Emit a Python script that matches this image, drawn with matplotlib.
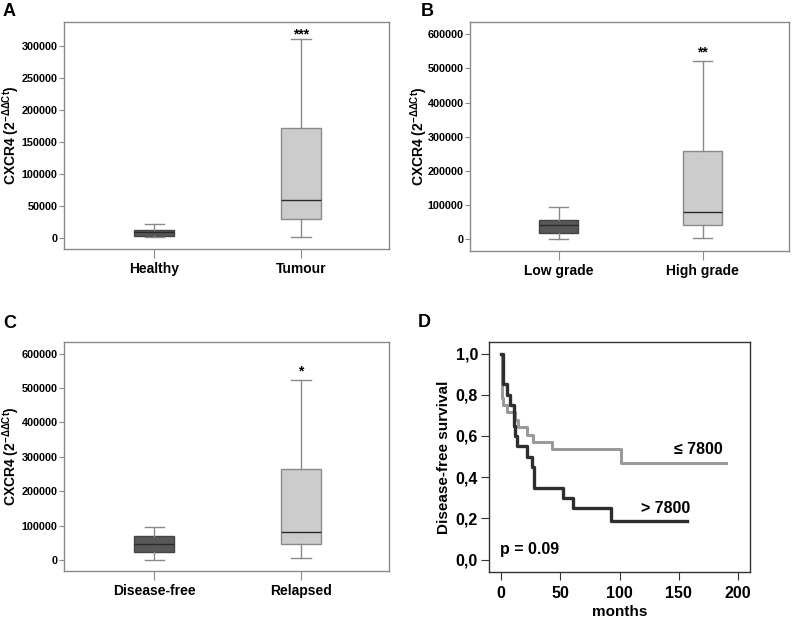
import matplotlib
matplotlib.use("Agg")
import matplotlib.pyplot as plt
from matplotlib.ticker import FuncFormatter

plt.rcParams['font.family'] = ['Liberation Sans', 'DejaVu Sans']
plt.rcParams['font.weight'] = 'bold'
plt.rcParams['mathtext.fontset'] = 'custom'
plt.rcParams['mathtext.rm'] = 'Liberation Sans'
plt.rcParams['mathtext.default'] = 'regular'

# box summaries: (whisker low, q1, median, q3, whisker high)
a_labels = ['Healthy', 'Tumour']
a_stats = [(600, 3100, 8500, 12000, 21500), (1000, 28800, 58600, 172000, 311000)]
b_labels = ['Low grade', 'High grade']
b_stats = [(0, 17500, 41000, 55600, 95000), (4000, 41000, 80000, 260000, 523000)]
c_labels = ['Disease-free', 'Relapsed']
c_stats = [(1000, 22400, 45700, 69000, 95000), (5000, 45700, 81500, 266000, 523000)]
stars = ['***', '**', '*']

# Kaplan-Meier steps (months, survival)
hi_t = [0, 1.4, 4.8, 7.6, 10.4, 12, 13.2, 21.7, 26, 28, 52.6, 61, 93, 157]
hi_s = [1.0, 0.85, 0.80, 0.75, 0.65, 0.60, 0.55, 0.50, 0.45, 0.35, 0.30, 0.25, 0.1875, 0.1875]
lo_t = [0, 0.6, 1.6, 4.8, 11.9, 14.5, 21.8, 26.6, 43, 101, 190]
lo_s = [1.0, 0.786, 0.75, 0.714, 0.679, 0.643, 0.607, 0.571, 0.536, 0.469, 0.469]

fig = plt.figure(figsize=(7.96, 6.18), dpi=100)
W, H = 796, 618


def add_ax(l, t, r, b):
    return fig.add_axes([l / W, 1 - b / H, (r - l) / W, (b - t) / H])


def box_panel(ax, labels, stats, ylim, yticks, star, star_y, label_x):
    bxp = []
    for lab, (lo, q1, med, q3, hi) in zip(labels, stats):
        bxp.append(dict(label=lab, whislo=lo, q1=q1, med=med, q3=q3, whishi=hi, fliers=[]))
    res = ax.bxp(bxp, positions=[1, 2], widths=0.27, patch_artist=True,
                 showfliers=False, capwidths=0.13)
    fills = ['#585858', '#cccccc']
    edges = ['#444444', '#8a8a8a']
    for i, p in enumerate(res['boxes']):
        p.set_facecolor(fills[i])
        p.set_edgecolor(edges[i])
        p.set_linewidth(1.0)
    for m in res['medians']:
        m.set_color('#2a2a2a')
        m.set_linewidth(1.0)
    for w in res['whiskers'] + res['caps']:
        w.set_color('#8a8a8a')
        w.set_linewidth(1.0)
    ax.set_xlim(0.385, 2.6)
    ax.set_ylim(*ylim)
    ax.set_yticks(yticks)
    ax.yaxis.set_major_formatter(FuncFormatter(lambda v, p: '%d' % v))
    for s in ax.spines.values():
        s.set_color('#8a8a8a')
        s.set_linewidth(1.0)
    ax.tick_params(axis='y', length=3.5, color='#8a8a8a', labelsize=7.8, pad=1)
    ax.tick_params(axis='x', length=6.5, color='#8a8a8a', labelsize=10, pad=3)
    ax.set_ylabel(r'CXCR4 (2$^{-\Delta\Delta Ct}$)', fontsize=10, fontweight='bold')
    ax.yaxis.set_label_coords(label_x, 0.5)
    ax.text(2, star_y, star, ha='center', va='center', fontsize=10, fontweight='bold')


ax_a = add_ax(64, 22, 389, 249)
box_panel(ax_a, a_labels, a_stats, (-17700, 338000), range(0, 300001, 50000),
          stars[0], 318000, -0.129)
ax_b = add_ax(470, 22, 789, 251)
box_panel(ax_b, b_labels, b_stats, (-34000, 636000), range(0, 600001, 100000),
          stars[1], 548000, -0.126)
ax_c = add_ax(64, 342, 389, 571)
box_panel(ax_c, c_labels, c_stats, (-32000, 634000), range(0, 600001, 100000),
          stars[2], 549000, -0.129)

ax_d = add_ax(489, 342, 750, 572)
ax_d.step(lo_t, lo_s, where='post', color='#9a9a9a', lw=2.2)
ax_d.step(hi_t, hi_s, where='post', color='#2e2e2e', lw=2.4)
ax_d.set_xlim(-10.4, 210.4)
ax_d.set_ylim(-0.06, 1.056)
ax_d.set_xticks([0, 50, 100, 150, 200])
ax_d.set_yticks([0, 0.2, 0.4, 0.6, 0.8, 1.0])
ax_d.yaxis.set_major_formatter(FuncFormatter(lambda v, p: ('%.1f' % v).replace('.', ',')))
for s in ax_d.spines.values():
    s.set_color('#333333')
    s.set_linewidth(1.0)
ax_d.tick_params(length=6, color='#333333', labelsize=11.5, pad=2)
ax_d.tick_params(axis='x', pad=4)
ax_d.set_xlabel('months', fontsize=11, fontweight='bold', labelpad=3)
ax_d.set_ylabel('Disease-free survival', fontsize=11, fontweight='bold', labelpad=3)
ax_d.text(187.5, 0.532, '\u2264 7800', ha='right', va='center', fontsize=11.5, fontweight='bold')
ax_d.text(159.6, 0.25, '> 7800', ha='right', va='center', fontsize=11.5, fontweight='bold')
ax_d.text(-0.8, 0.048, 'p = 0.09', ha='left', va='center', fontsize=11.5, fontweight='bold')

for lab, x, y in [('A', 3, 3), ('B', 421, 3), ('C', 3, 315), ('D', 418, 314)]:
    fig.text(x / W, 1 - y / H, lab, ha='left', va='top', fontsize=13, fontweight='bold')

fig.savefig('out.png', dpi=100)
